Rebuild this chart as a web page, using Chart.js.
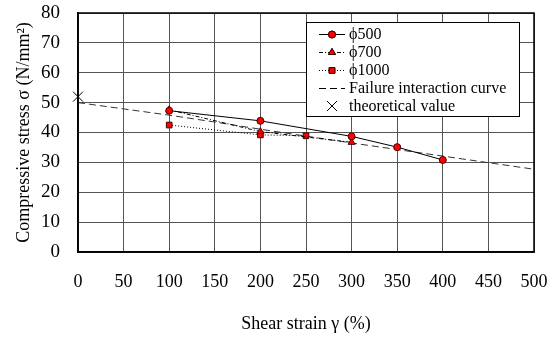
<!DOCTYPE html>
<html>
<head>
<meta charset="utf-8">
<script src="https://cdn.jsdelivr.net/npm/chart.js@4"></script>
<style>
html,body{margin:0;padding:0;background:#fff;}
#wrap{width:549px;height:339px;position:relative;}
</style>
</head>
<body>
<div id="wrap"><canvas id="c" width="549" height="339"></canvas></div>
<script>
// ---- data ----
const xTicks = [0, 50, 100, 150, 200, 250, 300, 350, 400, 450, 500];
const yTicks = [0, 10, 20, 30, 40, 50, 60, 70, 80];

const phi500Strain = [100, 200, 300, 350, 400];
const phi500Stress = [47.3, 43.9, 38.7, 35.1, 30.8];

const phi700Strain = [100, 200, 300];
const phi700Stress = [47.6, 40.3, 36.7];

const phi1000Strain = [100, 200, 250];
const phi1000Stress = [42.5, 39.2, 38.9];

const curveStrain = [0, 50, 100, 150, 200, 250, 300, 350, 400, 450, 500];
const curveStress = [50, 47.9, 45.8, 43.5, 41.1, 38.8, 36.5, 34.3, 32.1, 29.9, 27.7];

const theoStrain = [0];
const theoStress = [52];

const labels = ['\u03D5500', '\u03D5700', '\u03D51000', 'Failure interaction curve', 'theoretical value'];

function pts(xs, ys) { return xs.map((x, i) => ({ x: x, y: ys[i] })); }

const FONT = '"Liberation Serif", "Times New Roman", serif';
const RED = '#ff0000';

const datasets = [
  { label: labels[0], data: pts(phi500Strain, phi500Stress), borderColor: '#000', borderWidth: 1,
    pointStyle: 'circle', pointRadius: 3.5, pointBackgroundColor: RED, pointBorderColor: '#400', pointBorderWidth: 1, showLine: true, order: 1 },
  { label: labels[1], data: pts(phi700Strain, phi700Stress), borderColor: '#000', borderWidth: 1, borderDash: [4, 2, 1, 2],
    pointStyle: 'triangle', pointRadius: 4, pointBackgroundColor: RED, pointBorderColor: '#400', pointBorderWidth: 1, showLine: true, order: 2 },
  { label: labels[2], data: pts(phi1000Strain, phi1000Stress), borderColor: '#000', borderWidth: 1, borderDash: [1, 2],
    pointStyle: 'rect', pointRadius: 4, pointBackgroundColor: RED, pointBorderColor: '#400', pointBorderWidth: 1, showLine: true, order: 3 },
  { label: labels[3], data: pts(curveStrain, curveStress), borderColor: '#333', borderWidth: 1, borderDash: [7, 4],
    pointRadius: 0, showLine: true, order: 4 },
  { label: labels[4], data: pts(theoStrain, theoStress), borderColor: '#000', borderWidth: 1, clip: false,
    pointStyle: 'crossRot', pointRadius: 7, pointBorderWidth: 1, showLine: false, order: 0 }
];

const legendPlugin = {
  id: 'boxLegend',
  afterDraw(chart) {
    const ctx = chart.ctx;
    const x0 = 306, y0 = 22, w = 213, h = 94;
    ctx.save();
    ctx.fillStyle = '#fff';
    ctx.fillRect(x0, y0, w, h);
    ctx.strokeStyle = '#000';
    ctx.lineWidth = 1;
    ctx.strokeRect(x0 + 0.5, y0 + 0.5, w, h);
    const rows = [34, 52, 70, 88, 106];
    const sx1 = 319, sx2 = 345, mx = 332;
    chart.data.datasets.forEach((ds, i) => {
      const y = rows[i];
      ctx.strokeStyle = '#000';
      ctx.lineWidth = 1;
      if (i !== 4) {
        ctx.setLineDash(i === 3 ? [7, 4] : (ds.borderDash || []));
        ctx.beginPath();
        ctx.moveTo(sx1, y + 0.5);
        ctx.lineTo(sx2, y + 0.5);
        ctx.stroke();
        ctx.setLineDash([]);
      }
      if (i < 3) {
        Chart.helpers.drawPoint(ctx, {
          pointStyle: ds.pointStyle, radius: ds.pointRadius, borderWidth: 1, rotation: 0
        }, mx, y + 0.5);
        ctx.fillStyle = RED;
        ctx.strokeStyle = '#400';
        ctx.fill();
        ctx.stroke();
      } else if (i === 4) {
        ctx.strokeStyle = '#000';
        ctx.beginPath();
        ctx.moveTo(mx - 5, y - 5); ctx.lineTo(mx + 5, y + 5);
        ctx.moveTo(mx + 5, y - 5); ctx.lineTo(mx - 5, y + 5);
        ctx.stroke();
      }
      ctx.fillStyle = '#000';
      ctx.font = '16px ' + FONT;
      ctx.textBaseline = 'middle';
      ctx.textAlign = 'left';
      ctx.fillText(ds.label, 349, y + 1);
    });
    ctx.restore();
  }
};

new Chart(document.getElementById('c'), {
  type: 'scatter',
  data: { datasets: datasets },
  options: {
    responsive: false,
    animation: false,
    devicePixelRatio: 1,
    layout: { padding: { top: 13, right: 15, left: 0, bottom: 0 } },
    plugins: { legend: { display: false }, tooltip: { enabled: false } },
    scales: {
      x: {
        type: 'linear', min: 0, max: 500,
        afterBuildTicks(s) { s.ticks = xTicks.map(v => ({ value: v })); },
        afterFit(s) { s.height = 87; s.paddingLeft = 0; s.paddingRight = 0; },
        grid: { color: '#555', lineWidth: 1, drawTicks: false },
        border: { display: true, color: '#000', width: 1.5 },
        ticks: { color: '#000', font: { family: FONT, size: 18 }, padding: 19, maxRotation: 0, autoSkip: false },
        title: { display: true, text: 'Shear strain \u03B3 (%)', color: '#000', font: { family: FONT, size: 18 }, padding: { top: 24 } }
      },
      y: {
        type: 'linear', min: 0, max: 80,
        afterBuildTicks(s) { s.ticks = yTicks.map(v => ({ value: v })); },
        afterFit(s) { s.width = 78; s.paddingTop = 0; s.paddingBottom = 0; },
        grid: { color: '#555', lineWidth: 1, drawTicks: false },
        border: { display: true, color: '#000', width: 1.5 },
        ticks: { color: '#000', font: { family: FONT, size: 19 }, padding: 18 },
        title: { display: true, text: 'Compressive stress \u03C3 (N/mm\u00B2)', color: '#000', font: { family: FONT, size: 18 }, padding: { top: 13, bottom: 0 } }
      }
    }
  },
  plugins: [{
    id: 'frame',
    afterDatasetsDraw(chart) {
      const a = chart.chartArea, ctx = chart.ctx;
      ctx.save();
      ctx.strokeStyle = '#000';
      ctx.lineWidth = 1.5;
      ctx.strokeRect(a.left, a.top, a.right - a.left, a.bottom - a.top);
      ctx.restore();
    }
  }, legendPlugin]
});
</script>
</body>
</html>
